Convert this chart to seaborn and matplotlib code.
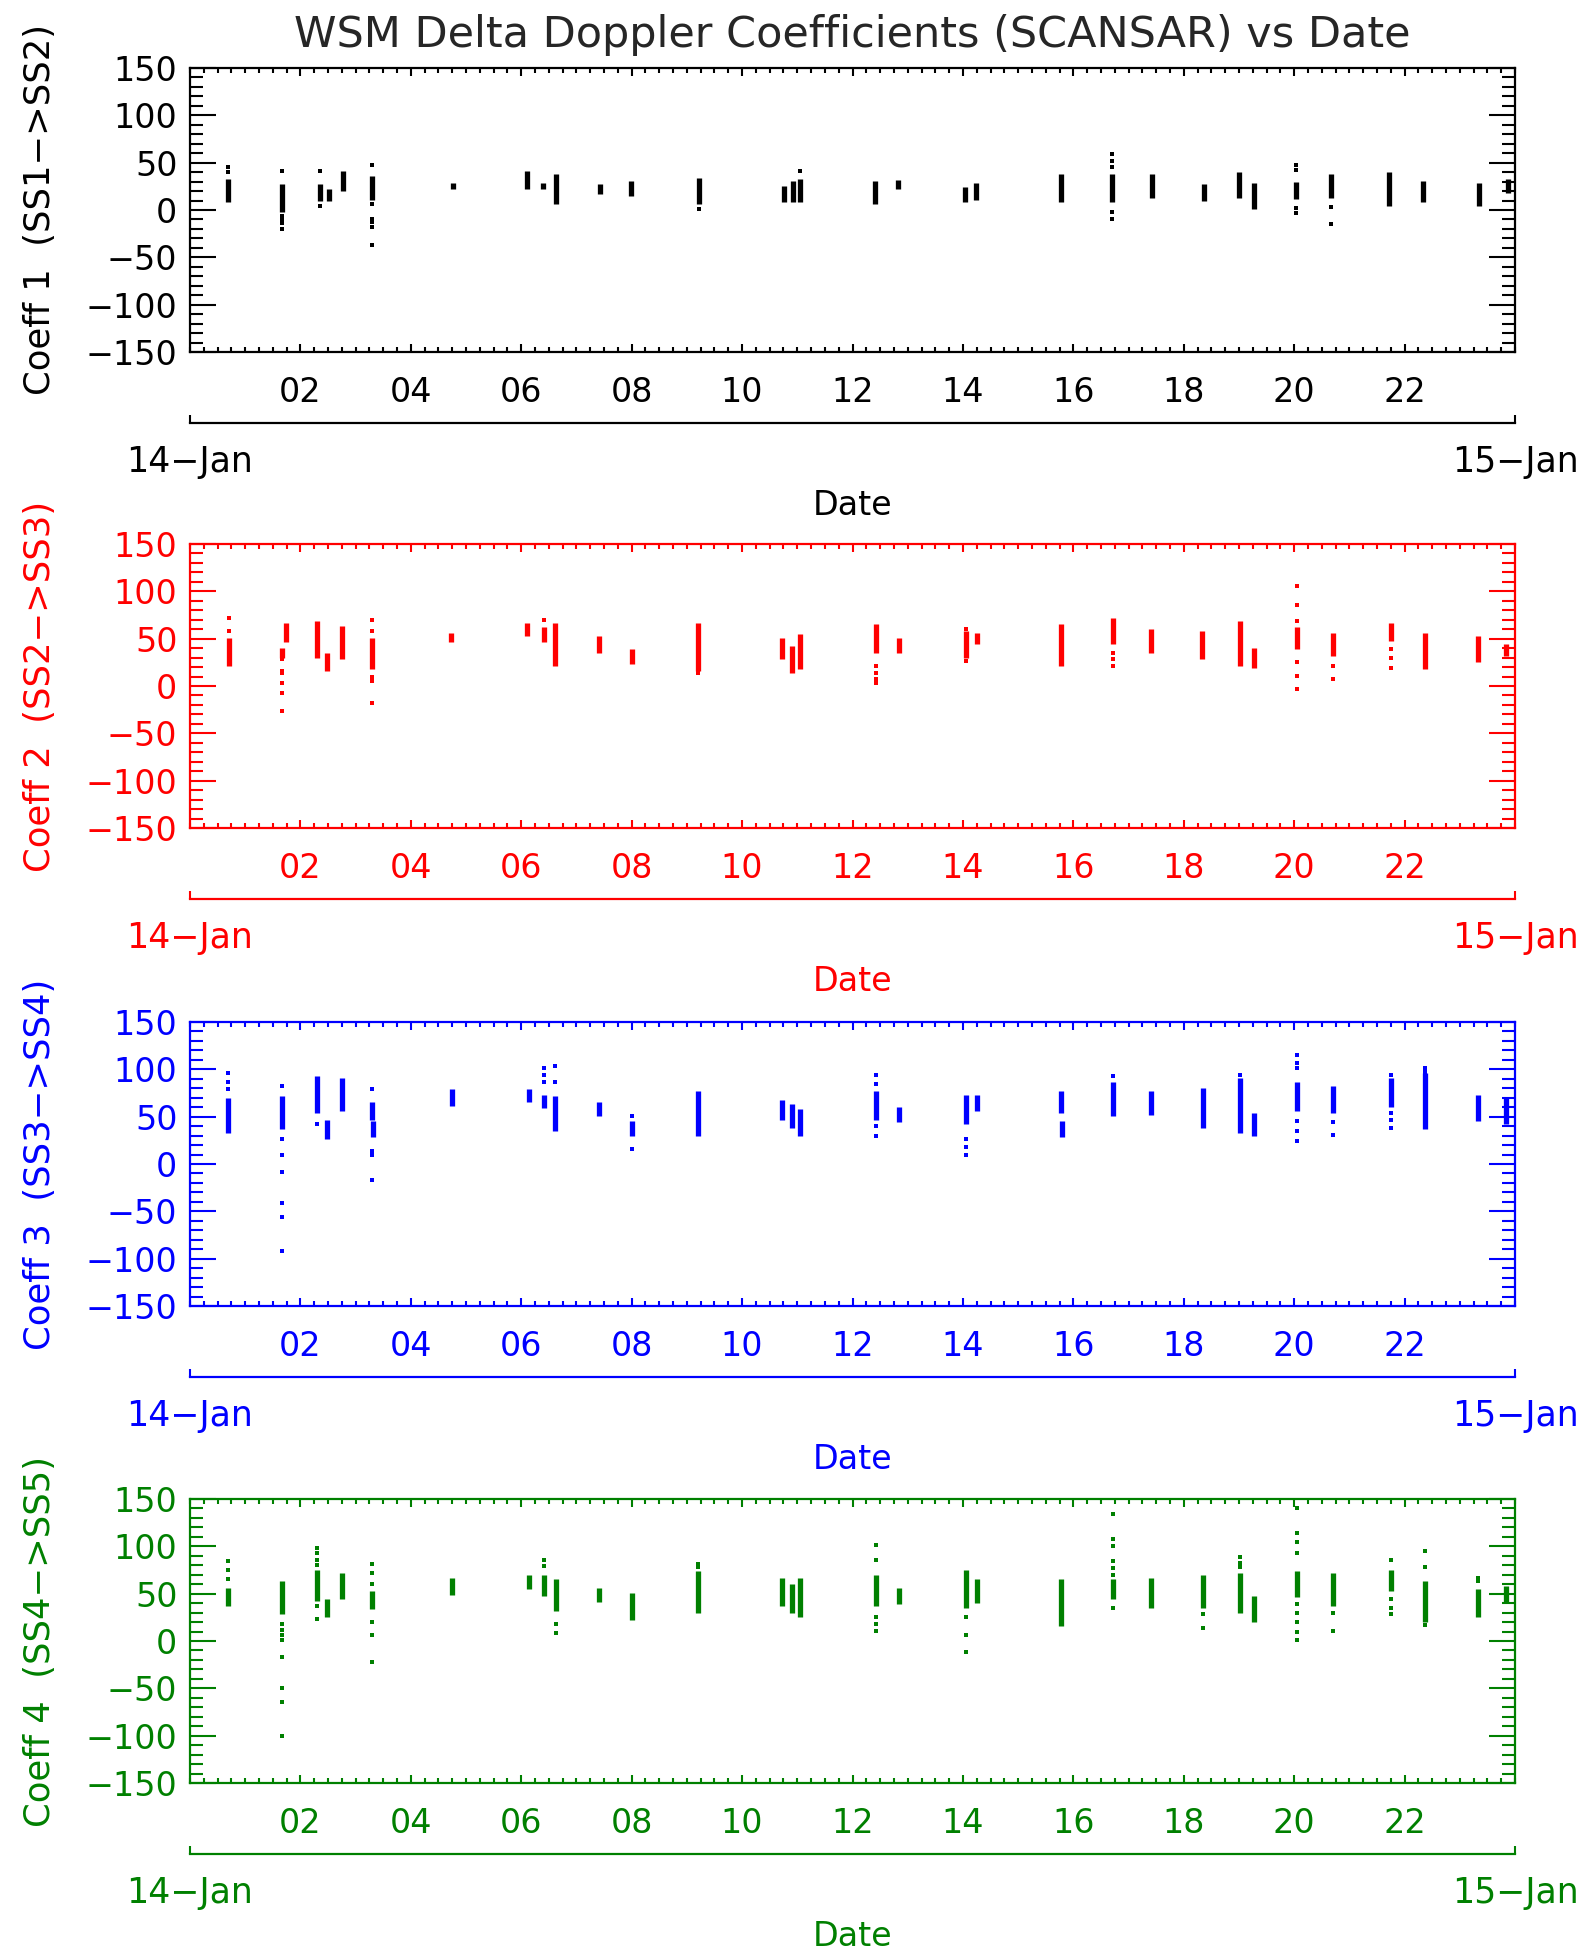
import numpy as np
import pandas as pd
import matplotlib
matplotlib.use('Agg')
import matplotlib.pyplot as plt
import matplotlib.dates as mdates
from matplotlib.ticker import MultipleLocator
import seaborn as sns

# day shown on the date axis (year is not printed on the chart)
day0 = pd.Timestamp('2005-01-14')
day1 = pd.Timestamp('2005-01-15')
date_labels = ['14\u2212Jan', '15\u2212Jan']

# ---- Coeff 1 (SS1->SS2): dense clusters (hour, low, high) and stray points
c1_hour = [0.69, 1.66, 2.35, 2.51, 2.77, 3.30, 4.76, 6.10, 6.39, 6.63, 7.43, 7.99, 9.22, 10.76, 10.92, 11.04,
           12.41, 12.83, 14.03, 14.23, 15.77, 16.70, 17.42, 18.36, 19.00, 19.27, 20.04, 20.67, 21.71, 22.34, 23.34, 23.88]
c1_low = [8, -2, 10, 10, 20, 11, 22, 22, 22, 6, 17, 15, 6, 8, 8, 8,
          6, 22, 8, 11, 8, 8, 13, 10, 13, 1, 12, 13, 4, 8, 4, 18]
c1_high = [33, 27, 27, 22, 41, 36, 29, 41, 29, 38, 27, 31, 34, 25, 31, 33,
           31, 32, 24, 29, 38, 38, 38, 27, 40, 29, 30, 38, 40, 31, 29, 33]
c1_dots = [(0.69, [45, 40]), (1.66, [41, -6, -10, -14, -20]), (2.35, [41, 4]),
           (3.30, [48, 6, -9, -13, -18, -37]), (9.22, [1]), (11.04, [41]),
           (16.70, [59, 52, 45, -2, -9]), (20.04, [48, 42, 2, -3]), (20.67, [3, -15])]

# ---- Coeff 2 (SS2->SS3)
c2_hour = [0.70, 1.66, 1.74, 2.30, 2.48, 2.76, 3.29, 4.72, 6.11, 6.41, 6.62, 7.41, 8.01, 9.21, 10.72, 10.91, 11.05,
           12.42, 12.84, 14.05, 14.26, 15.77, 16.72, 17.41, 18.33, 19.02, 19.27, 20.05, 20.71, 21.75, 22.37, 23.33, 23.84]
c2_low = [21, 30, 47, 30, 16, 28, 18, 46, 53, 46, 21, 35, 23, 16, 28, 14, 18,
          35, 35, 30, 44, 21, 44, 35, 28, 21, 19, 39, 32, 48, 18, 25, 32]
c2_high = [51, 40, 67, 69, 35, 63, 51, 56, 67, 62, 67, 53, 39, 67, 51, 42, 55,
           65, 51, 58, 56, 65, 72, 60, 58, 69, 40, 62, 56, 67, 56, 53, 44]
c2_dots = [(0.70, [72, 58]), (1.66, [28, 16, 14, 3, -7, -26]), (3.29, [70, 58, 10, 5, -18]),
           (6.41, [70]), (9.21, [14]), (12.42, [21, 14, 7, 3]), (14.05, [60, 26]),
           (16.72, [35, 28, 21]), (20.05, [106, 86, 69, 25, 11, -3]), (20.71, [21, 7]),
           (21.75, [39, 30, 19])]

# ---- Coeff 3 (SS3->SS4)
c3_hour = [0.68, 1.66, 2.30, 2.49, 2.76, 3.29, 3.31, 4.74, 6.14, 6.41, 6.62, 7.41, 8.01, 9.21, 10.72, 10.91, 11.05,
           12.42, 12.84, 14.05, 14.26, 15.78, 15.80, 16.72, 17.41, 18.35, 19.02, 19.27, 20.05, 20.71, 21.75, 22.37,
           23.33, 23.84]
c3_low = [33, 37, 54, 26, 56, 47, 28, 61, 65, 59, 35, 51, 30, 30, 47, 38, 30,
          47, 44, 42, 56, 54, 28, 51, 52, 38, 33, 30, 56, 54, 60, 37, 45, 42]
c3_high = [70, 72, 93, 47, 91, 65, 45, 79, 79, 73, 72, 65, 45, 77, 68, 63, 58,
           77, 60, 73, 73, 77, 45, 87, 77, 80, 91, 54, 87, 82, 91, 96, 73, 70]
c3_dots = [(0.68, [96, 87, 79]), (1.66, [82, 26, 10, -8, -41, -56, -92]), (2.30, [42]),
           (3.29, [79, 14, 9, -17]), (6.41, [101, 94, 87]), (6.62, [103, 87]), (8.01, [51, 16]),
           (12.42, [94, 84, 40, 30]), (14.05, [26, 18, 9]), (16.72, [93]), (19.02, [94]),
           (20.05, [115, 107, 101, 45, 35, 24]), (20.71, [44, 31]), (21.75, [94, 54, 46, 38]),
           (22.37, [101, 97, 92])]

# ---- Coeff 4 (SS4->SS5)
c4_hour = [0.68, 1.66, 2.30, 2.49, 2.76, 3.29, 4.74, 6.14, 6.41, 6.63, 7.41, 8.01, 9.21, 10.72, 10.91, 11.05,
           12.42, 12.84, 14.05, 14.26, 15.78, 16.72, 17.41, 18.35, 19.02, 19.27, 20.05, 20.71, 21.75, 22.37, 23.33, 23.84]
c4_low = [37, 28, 42, 25, 44, 34, 49, 55, 48, 32, 41, 22, 30, 37, 30, 25,
          37, 39, 35, 40, 16, 44, 35, 35, 30, 20, 46, 37, 53, 20, 25, 40]
c4_high = [56, 63, 75, 44, 72, 53, 67, 70, 70, 65, 56, 51, 74, 67, 60, 67,
           70, 56, 75, 65, 65, 65, 67, 70, 72, 48, 74, 72, 75, 63, 55, 58]
c4_dots = [(0.68, [84, 75, 65]), (1.66, [18, 12, 6, 1, -17, -50, -64, -100]), (2.30, [98, 93, 86, 80, 37, 23]),
           (3.29, [81, 72, 60, 20, 6, -22]), (6.41, [86, 79]), (6.63, [18, 8]), (9.21, [81, 78]),
           (12.42, [101, 86, 25, 18, 11]), (14.05, [25, 6, -12]), (16.72, [134, 108, 100, 84, 77, 70, 35]),
           (18.35, [28, 14]), (19.02, [89, 82, 78]), (20.05, [140, 114, 105, 93, 39, 30, 20, 10, 1]),
           (20.71, [30, 11]), (21.75, [86, 44, 35, 28]), (22.37, [95, 78, 17]), (23.33, [67, 63])]

panels = [
    (c1_hour, c1_low, c1_high, c1_dots, 'black', 'Coeff 1  (SS1\u2212>SS2)'),
    (c2_hour, c2_low, c2_high, c2_dots, '#ff0000', 'Coeff 2  (SS2\u2212>SS3)'),
    (c3_hour, c3_low, c3_high, c3_dots, '#0000ff', 'Coeff 3  (SS3\u2212>SS4)'),
    (c4_hour, c4_low, c4_high, c4_dots, '#008000', 'Coeff 4  (SS4\u2212>SS5)'),
]

sns.set_style('white')
plt.rcParams['font.family'] = ['DejaVu Sans']

W, H = 1582, 1951
fig = plt.figure(figsize=(W / 100, H / 100), dpi=100)
tops = [68, 544, 1022, 1499]

for top, (hours, low, high, dots, col, label) in zip(tops, panels):
    ax = fig.add_axes([190 / W, 1 - (top + 284) / H, 1325 / W, 284 / H])

    t = day0 + pd.to_timedelta(hours, unit='h')
    ax.vlines(t, low, high, colors=col, linewidth=3.8)

    dot_df = pd.DataFrame([(h, v) for h, vals in dots for v in vals], columns=['hour', 'value'])
    dot_df['time'] = day0 + pd.to_timedelta(dot_df['hour'], unit='h')
    sns.scatterplot(data=dot_df, x='time', y='value', ax=ax, color=col, marker='s', s=6,
                    linewidth=0, legend=False)

    ax.set_xlim(day0, day1)
    ax.set_ylim(-150, 150)
    ax.set_yticks(range(-150, 151, 50))
    ax.yaxis.set_minor_locator(MultipleLocator(10))
    ax.xaxis.set_major_locator(mdates.HourLocator(byhour=range(2, 23, 2)))
    ax.xaxis.set_major_formatter(mdates.DateFormatter('%H'))
    ax.xaxis.set_minor_locator(mdates.MinuteLocator(byminute=[0, 15, 30, 45]))
    ax.set_xlabel('')
    ax.set_ylabel(label, color=col, fontsize=25.5)
    ax.yaxis.set_label_coords(-0.100, 0.5)

    ax.tick_params(axis='both', which='both', direction='in', top=True, right=True,
                   bottom=True, left=True, colors=col)
    ax.tick_params(axis='y', which='major', length=19, width=1.5, labelsize=24, pad=9)
    ax.tick_params(axis='y', which='minor', length=9.5, width=1.5)
    ax.tick_params(axis='x', which='major', length=6, width=1.5, labelsize=24, pad=17)
    ax.tick_params(axis='x', which='minor', length=3.5, width=1.5)
    for sp in ax.spines.values():
        sp.set_color(col)
        sp.set_linewidth(1.6)

    # separate day axis below each panel
    sec = ax.secondary_xaxis(-0.25)
    sec.set_xticks([mdates.date2num(day0), mdates.date2num(day1)], labels=date_labels)
    sec.tick_params(direction='in', length=6, width=1.5, colors=col, labelsize=25, pad=16)
    sec.spines['bottom'].set_color(col)
    sec.spines['bottom'].set_linewidth(1.6)
    sec.set_xlabel('Date', color=col, fontsize=24, labelpad=7)

fig.text(852 / W, 1 - 35 / H, 'WSM Delta Doppler Coefficients (SCANSAR) vs Date',
         ha='center', va='center', fontsize=31)

fig.savefig('out.png', dpi=100)
